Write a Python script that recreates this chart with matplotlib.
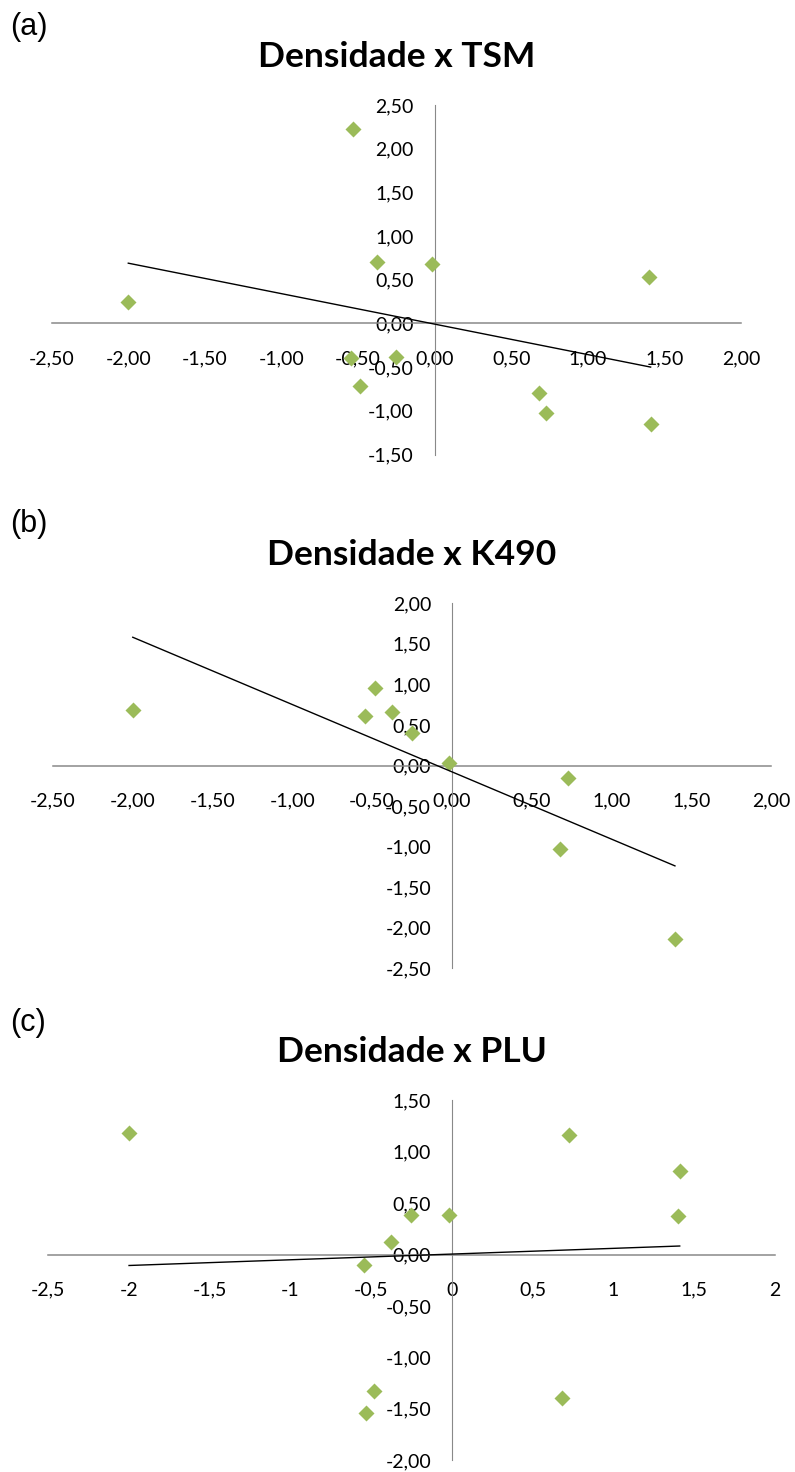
import numpy as np
import matplotlib.pyplot as plt

# Standardised anomalies (z-scores)
densidade = [-2.00, -0.545, -0.533, -0.485, -0.375, -0.252, -0.02, 0.679, 0.725, 1.398, 1.41]
tsm = [0.25, -0.40, 2.23, -0.72, 0.705, -0.38, 0.675, -0.80, -1.03, 0.533, -1.15]
k490 = [0.68, 0.614, np.nan, 0.952, 0.656, 0.405, 0.035, -1.026, -0.15, -2.139, np.nan]
plu = [1.185, -0.10, -1.54, -1.33, 0.125, 0.388, 0.382, -1.394, 1.159, 0.372, 0.809]

titles = ["Densidade x TSM", "Densidade x K490", "Densidade x PLU"]
panel_tags = ["(a)", "(b)", "(c)"]

x_ticks = [-2.5, -2.0, -1.5, -1.0, -0.5, 0.0, 0.5, 1.0, 1.5, 2.0]
x_labels_2dec = ["-2,50", "-2,00", "-1,50", "-1,00", "-0,50", "0,00", "0,50", "1,00", "1,50", "2,00"]
x_labels_general = ["-2,5", "-2", "-1,5", "-1", "-0,5", "0", "0,5", "1", "1,5", "2"]

y_ticks_a = [-1.5, -1.0, -0.5, 0.0, 0.5, 1.0, 1.5, 2.0, 2.5]
y_labels_a = ["-1,50", "-1,00", "-0,50", "0,00", "0,50", "1,00", "1,50", "2,00", "2,50"]
y_ticks_b = [-2.5, -2.0, -1.5, -1.0, -0.5, 0.0, 0.5, 1.0, 1.5, 2.0]
y_labels_b = ["-2,50", "-2,00", "-1,50", "-1,00", "-0,50", "0,00", "0,50", "1,00", "1,50", "2,00"]
y_ticks_c = [-2.0, -1.5, -1.0, -0.5, 0.0, 0.5, 1.0, 1.5]
y_labels_c = ["-2,00", "-1,50", "-1,00", "-0,50", "0,00", "0,50", "1,00", "1,50"]

W, H = 795, 1472
fig = plt.figure(figsize=(W / 100, H / 100), dpi=100)


def rect_px(x0, x1, y0, y1):
    return [x0 / W, 1 - y1 / H, (x1 - x0) / W, (y1 - y0) / H]


panels = [
    dict(rect=rect_px(51.7, 741.0, 105.0, 454.5), y=tsm,
         yt=y_ticks_a, yl=y_labels_a, xl=x_labels_2dec,
         title_base=67, tag_c=27.5),
    dict(rect=rect_px(53.0, 771.0, 603.3, 968.3), y=k490,
         yt=y_ticks_b, yl=y_labels_b, xl=x_labels_2dec,
         title_base=565, tag_c=524.5),
    dict(rect=rect_px(48.3, 775.0, 1100.3, 1460.3), y=plu,
         yt=y_ticks_c, yl=y_labels_c, xl=x_labels_general,
         title_base=1062, tag_c=1022.5),
]

green = "#9BBB59"
axis_grey = "#898989"
label_font = "Lato"

for p, title, tag in zip(panels, titles, panel_tags):
    ax = fig.add_axes(p["rect"])
    x = np.array(densidade, dtype=float)
    y = np.array(p["y"], dtype=float)

    ax.plot(x, y, linestyle="none", marker="D", ms=8, color=green,
            mec="none", zorder=3)

    ok = np.isfinite(y)
    slope, intercept = np.polyfit(x[ok], y[ok], 1)
    xs = np.array([x[ok].min(), x[ok].max()])
    ax.plot(xs, slope * xs + intercept, color="black", lw=1.0, zorder=4)

    ax.set_xlim(x_ticks[0], x_ticks[-1])
    ax.set_ylim(p["yt"][0], p["yt"][-1])
    ax.set_xticks(x_ticks)
    ax.set_xticklabels(p["xl"])
    ax.set_yticks(p["yt"])
    ax.set_yticklabels(p["yl"])

    for side in ("top", "right"):
        ax.spines[side].set_visible(False)
    ax.spines["left"].set_position(("data", 0))
    ax.spines["bottom"].set_position(("data", 0))
    ax.spines["left"].set_color(axis_grey)
    ax.spines["bottom"].set_color(axis_grey)
    ax.spines["left"].set_linewidth(0.8)
    ax.spines["bottom"].set_linewidth(1.1)
    ax.patch.set_alpha(0)

    ax.tick_params(axis="x", length=0, pad=19.5)
    ax.tick_params(axis="y", length=0, pad=15)
    for lab in ax.get_xticklabels() + ax.get_yticklabels():
        lab.set_fontfamily(label_font)
        lab.set_fontsize(14)
        lab.set_color("black")

    pos = ax.get_position()
    fig.text(pos.x0 + pos.width / 2, 1 - p["title_base"] / H, title,
             ha="center", va="baseline", fontsize=25.5, fontweight="bold",
             family=label_font)
    fig.text(10 / W, 1 - p["tag_c"] / H, tag, ha="left", va="center",
             fontsize=22, family="Liberation Sans")

fig.savefig("out.png", dpi=100)
